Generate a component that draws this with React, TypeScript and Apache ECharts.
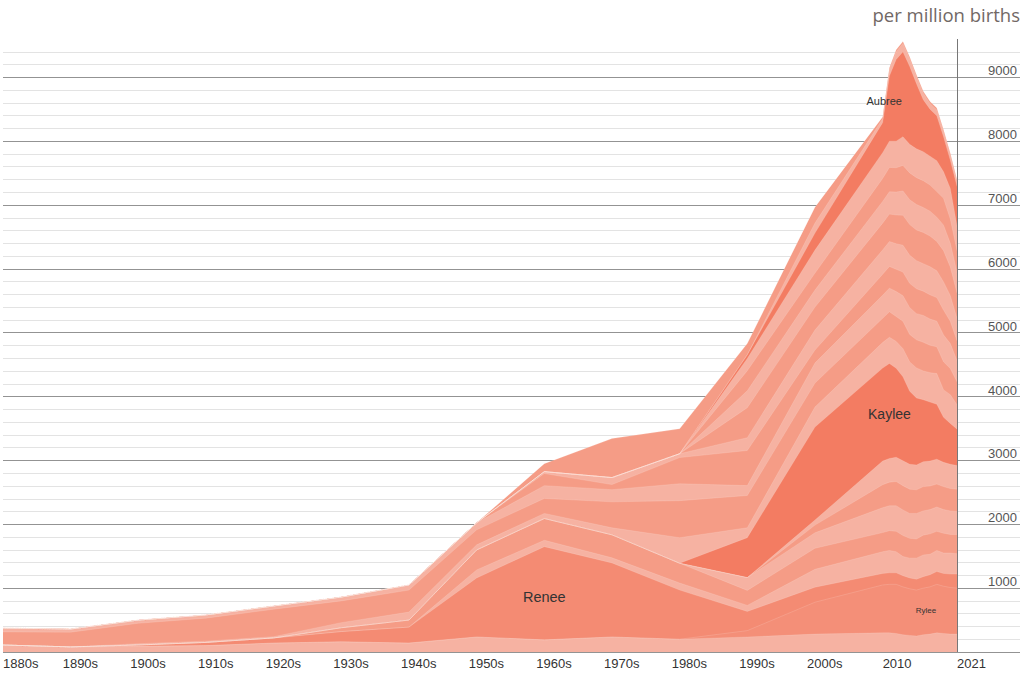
import { useEffect, useRef } from 'react';
import * as echarts from 'echarts';

// ---- data (per million births) ----
const years = [1880, 1890, 1900, 1910, 1920, 1930, 1940, 1950, 1960, 1970, 1980, 1990, 2000,
  2010, 2011, 2012, 2013, 2014, 2015, 2016, 2017, 2018, 2019, 2020, 2021];

// stacked from the bottom up
const tennessee = [110, 80, 90, 100, 140, 160, 140, 235, 190, 235, 200, 235, 280, 300, 300, 290, 270, 260, 250, 270, 280, 300, 290, 280, 280];
const rylee = [0, 0, 0, 0, 0, 0, 0, 0, 0, 0, 0, 100, 500, 750, 760, 770, 750, 730, 720, 730, 740, 760, 740, 730, 720];
const renee = [0, 0, 20, 50, 80, 160, 250, 925, 1460, 1160, 770, 300, 235, 180, 180, 180, 175, 170, 170, 180, 190, 200, 200, 210, 220];
const raylee = [0, 0, 0, 0, 0, 0, 0, 125, 100, 80, 110, 95, 280, 340, 350, 330, 300, 310, 330, 340, 320, 330, 320, 330, 320];
const marlee = [0, 0, 0, 0, 0, 60, 110, 313, 340, 360, 310, 235, 330, 300, 310, 320, 330, 310, 300, 310, 320, 300, 310, 290, 300];
const lee = [0, 0, 0, 0, 0, 0, 0, 0, 0, 0, 0, 200, 242, 390, 390, 400, 400, 390, 400, 380, 380, 380, 370, 370, 360];
const kylee = [0, 0, 0, 0, 0, 0, 0, 0, 0, 0, 0, 0, 120, 360, 370, 380, 380, 380, 370, 380, 370, 360, 360, 350, 350];
const kinslee = [0, 0, 0, 0, 0, 0, 0, 0, 0, 0, 0, 0, 80, 370, 370, 380, 390, 390, 390, 390, 390, 390, 380, 380, 370];
const kaylee = [0, 0, 0, 0, 0, 0, 0, 0, 0, 0, 0, 626, 1456, 1456, 1488, 1394, 1315, 1143, 1049, 971, 924, 860, 705, 640, 570];
const jaylee = [0, 0, 20, 20, 20, 80, 125, 80, 80, 110, 400, 155, 313, 400, 410, 420, 440, 460, 470, 450, 460, 480, 430, 450, 380];
const jolee = [205, 230, 320, 360, 430, 340, 345, 235, 235, 407, 580, 505, 376, 380, 400, 390, 430, 430, 440, 450, 430, 420, 440, 410, 360];
const haylee = [60, 50, 50, 50, 50, 60, 80, 110, 200, 190, 265, 155, 313, 360, 370, 390, 400, 420, 410, 420, 410, 400, 420, 390, 330];
const emilee = [0, 0, 0, 0, 0, 0, 0, 0, 190, 80, 410, 550, 204, 330, 340, 350, 370, 380, 390, 380, 380, 370, 390, 350, 310];
const desiree = [0, 0, 0, 0, 0, 0, 0, 0, 30, 110, 60, 200, 313, 380, 390, 400, 420, 440, 440, 430, 440, 420, 440, 400, 350];
const brylee = [0, 0, 0, 0, 0, 0, 0, 0, 0, 0, 0, 470, 360, 420, 430, 450, 470, 480, 480, 490, 480, 460, 490, 450, 400];
const brynlee = [0, 0, 0, 0, 0, 0, 0, 0, 0, 0, 0, 265, 266, 340, 350, 360, 380, 390, 400, 390, 390, 380, 400, 370, 320];
const braylee = [0, 0, 0, 0, 0, 0, 0, 0, 0, 0, 0, 315, 266, 360, 380, 380, 400, 420, 420, 420, 410, 400, 420, 380, 340];
const bailee = [0, 0, 0, 0, 0, 0, 0, 0, 0, 0, 0, 190, 360, 404, 412, 416, 450, 447, 451, 454, 451, 485, 415, 480, 385];
const aubree = [0, 0, 0, 0, 0, 0, 0, 0, 0, 0, 0, 60, 266, 470, 1020, 1280, 1330, 1220, 1020, 815, 735, 705, 550, 440, 625];
const ashlee = [0, 0, 0, 0, 0, 0, 0, 0, 0, 0, 0, 0, 157, 60, 100, 120, 130, 120, 110, 100, 90, 90, 80, 80, 70];
const aimee = [0, 0, 0, 0, 0, 0, 0, 0, 125, 610, 390, 175, 250, 30, 30, 30, 30, 30, 30, 30, 30, 30, 30, 30, 30];

const xLabelYears = [1880, 1890, 1900, 1910, 1920, 1930, 1940, 1950, 1960, 1970, 1980, 1990, 2000, 2010, 2021];
const xLabelTexts = ['1880s', '1890s', '1900s', '1910s', '1920s', '1930s', '1940s', '1950s', '1960s', '1970s', '1980s', '1990s', '2000s', '2010', '2021'];
const yTitle = 'per million births';

// ---- styling ----
const TONES: Record<string, string> = {
  light: '#f6b2a2',
  mid: '#f59c86',
  renee: '#f48b73',
  rylee: '#f48f78',
  dark: '#f37c62',
};

const layers = [
  { name: 'Tennessee', values: tennessee, tone: 'light' },
  { name: 'Rylee', values: rylee, tone: 'rylee' },
  { name: 'Renee', values: renee, tone: 'renee' },
  { name: 'Raylee', values: raylee, tone: 'light' },
  { name: 'Marlee', values: marlee, tone: 'mid' },
  { name: 'Lee', values: lee, tone: 'light' },
  { name: 'Kylee', values: kylee, tone: 'mid' },
  { name: 'Kinslee', values: kinslee, tone: 'light' },
  { name: 'Kaylee', values: kaylee, tone: 'dark' },
  { name: 'Jaylee', values: jaylee, tone: 'light' },
  { name: 'Jolee', values: jolee, tone: 'mid' },
  { name: 'Haylee', values: haylee, tone: 'light' },
  { name: 'Emilee', values: emilee, tone: 'mid' },
  { name: 'Desiree', values: desiree, tone: 'light' },
  { name: 'Brylee', values: brylee, tone: 'mid' },
  { name: 'Brynlee', values: brynlee, tone: 'light' },
  { name: 'Braylee', values: braylee, tone: 'mid' },
  { name: 'Bailee', values: bailee, tone: 'light' },
  { name: 'Aubree', values: aubree, tone: 'dark' },
  { name: 'Ashlee', values: ashlee, tone: 'light' },
  { name: 'Aimee', values: aimee, tone: 'mid' },
];

const labelSpots = [
  { name: 'Aubree', year: 2012, dx: -12, dy: 1, size: 11 },
  { name: 'Kaylee', year: 2011, dx: 0, dy: 3, size: 14 },
  { name: 'Renee', year: 1960, dx: 0, dy: 4, size: 14.5 },
  { name: 'Rylee', year: 2017, dx: -4, dy: 0, size: 8 },
];

const FONT = '"Liberation Sans", Arial, Helvetica, sans-serif';

export default function App() {
  const ref = useRef<HTMLDivElement>(null);

  useEffect(() => {
    if (!ref.current) return;
    const chart = echarts.init(ref.current, undefined, { renderer: 'svg' });

    // cumulative tops (bottom → top)
    let running = years.map(() => 0);
    const tops = layers.map((l) => {
      running = running.map((r, i) => r + l.values[i]);
      return running.slice();
    });

    const series: any[] = layers
      .map((l, k) => ({
        name: l.name,
        type: 'line',
        data: years.map((y, i) => [y, tops[k][i]]),
        symbol: 'none',
        showSymbol: false,
        silent: true,
        lineStyle: { width: 0.5, color: 'rgba(255,236,230,0.35)' },
        areaStyle: { color: TONES[l.tone], opacity: 1 },
      }))
      .reverse();

    series[0].markLine = {
      silent: true,
      symbol: 'none',
      label: { show: false },
      lineStyle: { color: '#777777', width: 1, type: 'solid' },
      data: [{ xAxis: years[years.length - 1] }],
    };

    const labelVals = xLabelYears.map((y, i) =>
      i > 0 && xLabelTexts[i].endsWith('s') ? y - 1.18 : y
    );

    chart.setOption({
      animation: false,
      title: {
        text: yTitle,
        right: 4,
        top: 4,
        padding: 0,
        textStyle: {
          fontFamily: '"Open Sans", sans-serif',
          fontSize: 18.5,
          lineHeight: 20,
          fontWeight: 'normal',
          color: '#716865',
        },
      },
      grid: { left: 3, right: 4, top: 39, bottom: 22, containLabel: false, outerBoundsMode: 'none' },
      xAxis: {
        type: 'value',
        min: 1880,
        max: 2030.3,
        axisLine: { show: false },
        axisTick: { show: false },
        splitLine: { show: false },
        axisLabel: {
          customValues: labelVals,
          align: 'left',
          margin: 5,
          fontSize: 13,
          color: '#333333',
          fontFamily: FONT,
          hideOverlap: false,
          formatter: (v: number) => {
            let best = 0;
            labelVals.forEach((lv, i) => {
              if (Math.abs(lv - v) < Math.abs(labelVals[best] - v)) best = i;
            });
            return Math.abs(labelVals[best] - v) < 0.5 ? xLabelTexts[best] : '';
          },
        },
      },
      yAxis: [
        {
          type: 'value',
          position: 'right',
          min: 0,
          max: 9600,
          interval: 200,
          axisLine: { show: false },
          axisTick: { show: false },
          axisLabel: { show: false },
          splitLine: { show: true, showMaxLine: false, lineStyle: { color: '#e3e3e3', width: 1 } },
        },
        {
          type: 'value',
          position: 'right',
          min: 0,
          max: 9600,
          interval: 1000,
          axisLine: { show: false },
          axisTick: { show: false },
          splitLine: { show: true, showMaxLine: false, lineStyle: { color: '#939393', width: 1 } },
          axisLabel: {
            inside: true,
            margin: 3,
            fontSize: 13,
            color: '#555555',
            fontFamily: FONT,
            verticalAlign: 'bottom',
            formatter: (v: number) => (v > 0 && v % 1000 === 0 ? String(v) : ''),
          },
        },
      ],
      series,
    });

    const graphics = labelSpots.map((s) => {
      const k = layers.findIndex((l) => l.name === s.name);
      const i = years.indexOf(s.year);
      const v = layers[k].values[i];
      const mid = tops[k][i] - v / 2;
      const p = chart.convertToPixel({ xAxisIndex: 0, yAxisIndex: 0 }, [s.year, mid]) as number[];
      return {
        type: 'text',
        x: p[0] + s.dx,
        y: p[1] + s.dy,
        z: 100,
        silent: true,
        style: {
          text: s.name,
          fontSize: s.size,
          fontFamily: FONT,
          fill: '#333333',
          align: 'center',
          verticalAlign: 'middle',
        },
      };
    });
    chart.setOption({ graphic: graphics });

    return () => chart.dispose();
  }, []);

  return (
    <div
      ref={ref}
      style={{ position: 'absolute', left: 0, top: 0, width: 1024, height: 674, background: '#ffffff' }}
    />
  );
}
